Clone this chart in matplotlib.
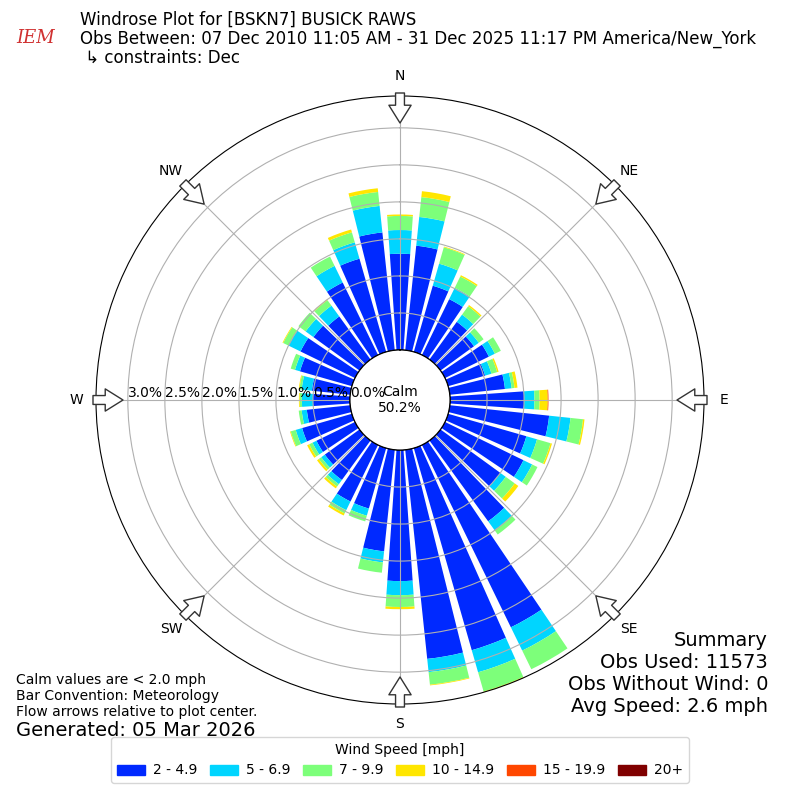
import numpy as np
import matplotlib
matplotlib.use('Agg')
import matplotlib.pyplot as plt
from matplotlib.patches import Patch, Circle

# direction of each bar (degrees, meteorological: where wind comes from)
directions = np.arange(0, 360, 10)

# percent of obs in each speed bin
spd_2_5 = [1.30, 1.42, 0.93, 0.84, 0.63, 0.56, 0.66, 0.52, 0.75, 1.00,
           1.35, 1.10, 1.18, 1.00, 1.35, 2.74, 2.84, 2.84, 1.77, 1.38,
           0.85, 0.85, 0.66, 0.58, 0.58, 0.70, 0.59, 0.50, 0.52, 0.73,
           0.82, 0.77, 0.72, 1.09, 1.31, 1.60]
spd_5_7 = [0.32, 0.39, 0.31, 0.17, 0.12, 0.08, 0.09, 0.09, 0.09, 0.14,
           0.29, 0.15, 0.13, 0.09, 0.15, 0.35, 0.31, 0.18, 0.19, 0.15,
           0.10, 0.13, 0.07, 0.06, 0.06, 0.09, 0.07, 0.15, 0.14, 0.07,
           0.18, 0.13, 0.18, 0.25, 0.23, 0.36]
spd_7_10 = [0.19, 0.27, 0.23, 0.17, 0.14, 0.08, 0.09, 0.08, 0.04, 0.07,
            0.17, 0.19, 0.08, 0.15, 0.07, 0.28, 0.27, 0.17, 0.16, 0.14,
            0.08, 0.05, 0.04, 0.04, 0.05, 0.07, 0.04, 0.03, 0.03, 0.06,
            0.08, 0.12, 0.09, 0.14, 0.14, 0.19]
spd_10_15 = [0.02, 0.08, 0.01, 0.02, 0.02, 0.00, 0.00, 0.02, 0.04, 0.11,
             0.02, 0.02, 0.00, 0.06, 0.00, 0.00, 0.01, 0.01, 0.03, 0.00,
             0.00, 0.03, 0.03, 0.03, 0.03, 0.01, 0.00, 0.01, 0.01, 0.00,
             0.01, 0.00, 0.01, 0.00, 0.04, 0.05]
spd_15_20 = [0.0] * 9 + [0.01] + [0.0] * 26
spd_20p = [0.0] * 36

bins = [spd_2_5, spd_5_7, spd_7_10, spd_10_15, spd_15_20, spd_20p]
bin_labels = ['2 - 4.9', '5 - 6.9', '7 - 9.9', '10 - 14.9', '15 - 19.9', '20+']
colors = plt.cm.jet(np.linspace(0, 1, 7)[1:])

rticks = [0.0, 0.5, 1.0, 1.5, 2.0, 2.5, 3.0]
compass = ['N', 'NE', 'E', 'SE', 'S', 'SW', 'W', 'NW']

calm_pct = 50.2
summary = ['Summary', 'Obs Used: 11573', 'Obs Without Wind: 0',
           'Avg Speed: 2.6 mph']
notes = ['Calm values are < 2.0 mph', 'Bar Convention: Meteorology',
         'Flow arrows relative to plot center.']

fig = plt.figure(figsize=(8, 8), dpi=100)
ax = fig.add_axes([0.12, 0.12, 0.76, 0.76], projection='polar')
ax.set_theta_zero_location('N')
ax.set_theta_direction(-1)

theta = np.deg2rad(directions)
width = np.deg2rad(10) * 0.8
base = np.zeros(len(directions))
for vals, c in zip(bins, colors):
    vals = np.array(vals)
    ax.bar(theta, vals, width=width, bottom=base, color=c, linewidth=0)
    base = base + vals

rmax = base.max()
# calm hole: 50 px out of a 304 px radius
ax.set_rorigin(-rmax * 50 / 254)
ax.set_ylim(0, rmax)
ax.set_yticks(rticks[1:])
ax.set_yticklabels([])
ax.set_thetagrids(np.arange(0, 360, 45), labels=[''] * 8)
ax.grid(True, color='#b0b0b0', lw=0.8)

px = rmax / 254  # data units per pixel
ax.add_patch(Circle((0.5, 0.5), 50 / 608, transform=ax.transAxes,
                    fc='white', ec='black', lw=1, zorder=2))
ax.text(0.5, 0.5, 'Calm\n%.1f%%' % calm_pct, transform=ax.transAxes,
        ha='center', va='center', fontsize=10, zorder=4)

for t in rticks:
    ax.text(np.deg2rad(270), t, '%.1f%%' % t, ha='left', va='bottom',
            fontsize=10, zorder=4)

for i, lab in enumerate(compass):
    ang = np.deg2rad(i * 45)
    ax.text(ang, (324 - 50) * px, lab, ha='center', va='center',
            fontsize=10, clip_on=False)
    ax.annotate('', xy=(ang, (277 - 50) * px), xytext=(ang, (307 - 50) * px),
                arrowprops=dict(arrowstyle='simple,head_length=0.8,head_width=1.0,tail_width=0.4',
                                fc='white', ec='#333333', lw=1, mutation_scale=16,
                                shrinkA=0, shrinkB=0),
                annotation_clip=False)

fig.text(0.1, 0.986,
         'Windrose Plot for [BSKN7] BUSICK RAWS\n'
         'Obs Between: 07 Dec 2010 11:05 AM - 31 Dec 2025 11:17 PM America/New_York\n'
         ' \u21b3 constraints: Dec',
         ha='left', va='top', fontsize=12, linespacing=1.05)
fig.text(0.02, 0.946, 'IEM', color='#d03030', fontsize=13,
         family='DejaVu Serif', style='italic')

for i, line in enumerate(notes):
    fig.text(0.02, 0.150 - i * 0.020, line, ha='left', va='center', fontsize=10)
fig.text(0.02, 0.087, 'Generated: 05 Mar 2026', ha='left', va='center', fontsize=14)
for i, line in enumerate(summary):
    fig.text(0.96, 0.200 - i * 0.0275, line, ha='right', va='center', fontsize=14)

handles = [Patch(color=c) for c in colors]
fig.legend(handles, bin_labels, loc='lower center', bbox_to_anchor=(0.5, 0.0125),
           ncol=6, title='Wind Speed [mph]', fontsize=10, title_fontsize=10,
           columnspacing=0.9, handletextpad=0.6)

fig.savefig('out.png', dpi=100)
